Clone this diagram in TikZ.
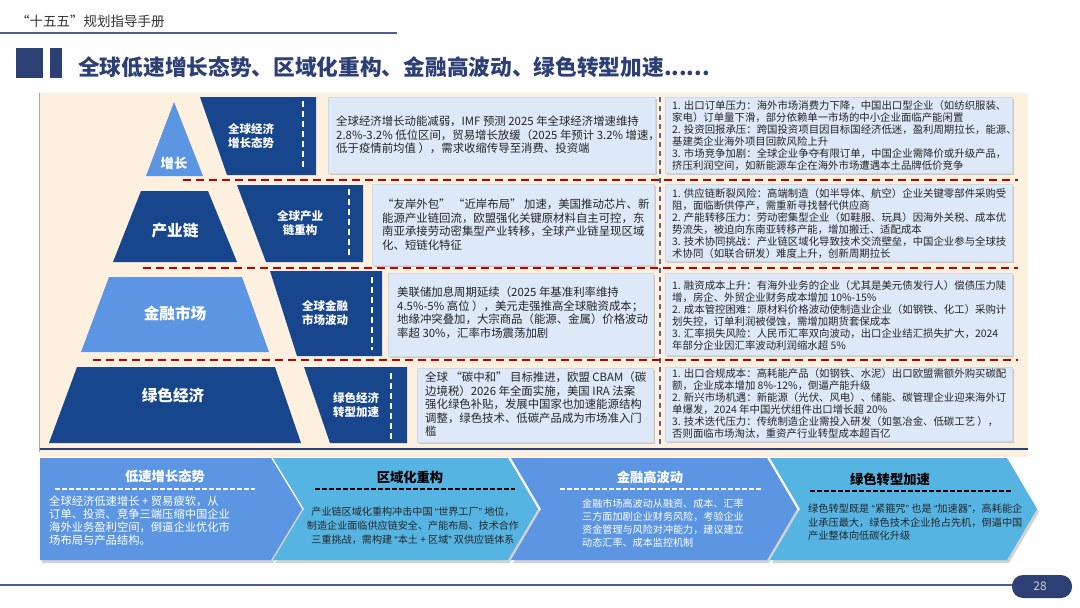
\documentclass[tikz,border=0pt]{standalone}
\usepackage{fontspec}
\setmainfont{Noto Sans CJK SC}
\newfontfamily\qfont{Liberation Sans}
\newcommand\qo{{\qfont“}}
\newcommand\qc{{\qfont”}}
\usepackage{xcolor}
\usetikzlibrary{shadows, positioning}
\XeTeXlinebreaklocale "zh"
\definecolor{navy}  {RGB}{ 44, 64,118}
\definecolor{dblue} {RGB}{ 24, 70,140}
\definecolor{lblue} {RGB}{ 92,150,226}
\definecolor{sky}   {RGB}{ 86,180,227}
\definecolor{beige} {RGB}{253,240,222}
\definecolor{pale}  {RGB}{221,232,248}
\definecolor{dred}  {RGB}{192,  0,  0}
\definecolor{rule}  {RGB}{ 78, 96,145}
\tikzset{
  % White label on a pyramid layer
  LV/.style={font=\fontsize{15.6}{18}\selectfont\bfseries,text=white,inner sep=0pt},
  % Two-line label on a dark band
  BD/.style={font=\fontsize{11.5}{14}\selectfont\bfseries,text=white,
             align=center,inner sep=0pt},
  % Pale text panel
  TP/.style={fill=pale,draw=pale!85!gray,line width=0.5pt,
             drop shadow={shadow xshift=2pt,shadow yshift=-2pt,opacity=0.35}},
  % Body text, middle column
  MT/.style={anchor=north west,align=left,inner sep=0pt,
             font=\fontsize{11.4}{13.5}\selectfont,text=black!85},
  % Body text, right column
  RT/.style={anchor=north west,align=left,inner sep=0pt,
             font=\fontsize{10.4}{12}\selectfont,text=black!85},
  % Red row divider
  RD/.style={dred,line width=1.8pt,dash pattern=on 8pt off 5pt},
  % White dashed rule in a band
  WD/.style={white,line width=1.5pt,dash pattern=on 6pt off 4pt},
  % Chevron card
  CV/.style={drop shadow={shadow xshift=2pt,shadow yshift=-3pt,opacity=0.35}},
  CT/.style={font=\fontsize{13.3}{16}\selectfont\bfseries,inner sep=0pt},
  CB/.style={anchor=north west,align=left,inner sep=0pt},
  CR/.style={line width=1.2pt,dash pattern=on 4.5pt off 2.5pt},
}
\begin{document}
\begin{tikzpicture}[x=1pt,y=-1pt]
  \useasboundingbox[fill=white] (0,0) rectangle (1080,608);
  % Header
  \node[anchor=west,inner sep=0pt,font=\fontsize{13.5}{16}\selectfont,text=black!80]
       (hdr) at (16,21) {“十五五”规划指导手册};
  \draw[rule,line width=1.2pt] (0,33) -- (397,33);
  \fill[navy] (16,48) rectangle (43,78);
  \fill[navy] (50,48) rectangle (62,78);
  \node[anchor=west,inner sep=0pt,font=\fontsize{21.7}{26}\selectfont\bfseries,text=navy]
       (ttl) at (78,67) {全球低速增长态势、区域化重构、金融高波动、绿色转型加速......};

  % Beige panel
  \fill[beige] (40,93) rectangle (1028,457);
  \draw[black!35,line width=1.5pt] (39.5,93) -- (39.5,452);
  \draw[navy,line width=2pt] (40,449) -- (1028,449);

  % Text panels
  \path[TP] (328,97) rectangle (655,173);
  \path[TP] (372,184) rectangle (654,265);
  \path[TP] (388,273) rectangle (653,356);
  \path[TP] (417,368) rectangle (653,442);
  \path[TP] (665,97) rectangle (1012,173);
  \path[TP] (665,184) rectangle (1012,261);
  \path[TP] (665,273) rectangle (1012,355);
  \path[TP] (665,367) rectangle (1012,441);

  % Dividers
  \draw[navy!80,line width=1.5pt,dash pattern=on 5pt off 4pt] (660,97) -- (660,445);
  \draw[RD] (183,180) -- (1018,180);
  \draw[RD] (143,268) -- (1018,268);
  \draw[RD] (93,360) -- (1018,360);

  % Level 1: growth
  \fill[lblue] (174,102) -- (203,176) -- (146,176) -- cycle;
  \node[LV,font=\fontsize{13.3}{16}\selectfont\bfseries] (grow) at (174,163) {增长};
  \fill[dblue] (200,97) -- (316,97) -- (316,175) -- (227,175) -- cycle;
  \draw[WD] (303,101) -- (303,170);
  \node[BD] (gtrend) at (251,136) {全球经济\\增长态势};

  % Level 2: industry chain
  \fill[dblue] (141,191) -- (208,191) -- (237,262) -- (113,262) -- cycle;
  \node[LV] (chain) at (175,231) {产业链};
  \fill[dblue] (237,185) -- (363,185) -- (363,262) -- (266,262) -- cycle;
  \draw[WD] (349,189) -- (349,256);
  \node[BD] (cshift) at (300,223) {全球产业\\链重构};

  % Level 3: finance
  \fill[lblue] (109,277) -- (242,277) -- (269,352) -- (81,352) -- cycle;
  \node[LV] (fin) at (175,313) {金融市场};
  \fill[dblue] (270,271) -- (382,271) -- (382,356) -- (297,356) -- cycle;
  \draw[WD] (372,277) -- (372,350);
  \node[BD] (fvol) at (325,313) {全球金融\\市场波动};

  % Level 4: green economy
  \fill[dblue] (77,367) -- (275,367) -- (301,443) -- (49,443) -- cycle;
  \node[LV] (green) at (173,395) {绿色经济};
  \fill[dblue] (304,367) -- (407,367) -- (407,443) -- (330,443) -- cycle;
  \draw[WD] (391,373) -- (391,440);
  \node[BD] (gturn) at (356,405) {绿色经济\\转型加速};

  % Middle column texts
  \node[MT] (m1) at (336,116) {全球经济增长动能减弱，IMF 预测 2025 年全球经济增速维持\\
    2.8\%-3.2\% 低位区间，贸易增长放缓（2025 年预计 3.2\% 增速，\\
    低于疫情前均值 ），需求收缩传导至消费、投资端};
  \node[MT] (m2) at (382,199) {“友岸外包” “近岸布局” 加速，美国推动芯片、新\\
    能源产业链回流，欧盟强化关键原材料自主可控，东\\
    南亚承接劳动密集型产业转移，全球产业链呈现区域\\
    化、短链化特征};
  \node[MT] (m3) at (397,287) {美联储加息周期延续（2025 年基准利率维持\\
    4.5\%-5\% 高位 ），美元走强推高全球融资成本；\\
    地缘冲突叠加，大宗商品（能源、金属）价格波动\\
    率超 30\%，汇率市场震荡加剧};
  \node[MT] (m4) at (425,372) {全球 “碳中和” 目标推进，欧盟 CBAM（碳\\
    边境税）2026 年全面实施，美国 IRA 法案\\
    强化绿色补贴，发展中国家也加速能源结构\\
    调整，绿色技术、低碳产品成为市场准入门\\
    槛};

  % Right column texts
  \node[RT] (r1) at (672,100) {1. 出口订单压力：海外市场消费力下降，中国出口型企业（如纺织服装、\\
    家电）订单量下滑，部分依赖单一市场的中小企业面临产能闲置\\
    2. 投资回报承压：跨国投资项目因目标国经济低迷，盈利周期拉长，能源、\\
    基建类企业海外项目回款风险上升\\
    3. 市场竞争加剧：全球企业争夺有限订单，中国企业需降价或升级产品，\\
    挤压利润空间，如新能源车企在海外市场遭遇本土品牌低价竞争};
  \node[RT] (r2) at (672,188) {1. 供应链断裂风险：高端制造（如半导体、航空）企业关键零部件采购受\\
    阻，面临断供停产，需重新寻找替代供应商\\
    2. 产能转移压力：劳动密集型企业（如鞋服、玩具）因海外关税、成本优\\
    势流失，被迫向东南亚转移产能，增加搬迁、适配成本\\
    3. 技术协同挑战：产业链区域化导致技术交流壁垒，中国企业参与全球技\\
    术协同（如联合研发）难度上升，创新周期拉长};
  \node[RT] (r3) at (672,280) {1. 融资成本上升：有海外业务的企业（尤其是美元债发行人）偿债压力陡\\
    增，房企、外贸企业财务成本增加 10\%-15\%\\
    2. 成本管控困难：原材料价格波动使制造业企业（如钢铁、化工）采购计\\
    划失控，订单利润被侵蚀，需增加期货套保成本\\
    3. 汇率损失风险：人民币汇率双向波动，出口企业结汇损失扩大，2024\\
    年部分企业因汇率波动利润缩水超 5\%};
  \node[RT] (r4) at (672,368) {1. 出口合规成本：高耗能产品（如钢铁、水泥）出口欧盟需额外购买碳配\\
    额，企业成本增加 8\%-12\%，倒逼产能升级\\
    2. 新兴市场机遇：新能源（光伏、风电）、储能、碳管理企业迎来海外订\\
    单爆发，2024 年中国光伏组件出口增长超 20\%\\
    3. 技术迭代压力：传统制造企业需投入研发（如氢冶金、低碳工艺 ），\\
    否则面临市场淘汰，重资产行业转型成本超百亿};

  % Bottom chevron cards
  \fill[lblue,CV] (40,458) -- (271,458) -- (302,509) -- (271,560) -- (40,560) -- cycle;
  \fill[sky,CV] (273,458) -- (508,458) -- (538,509) -- (508,560) -- (273,560) -- (304,509) -- cycle;
  \fill[lblue,CV] (511,458) -- (767,458) -- (797,509) -- (767,560) -- (511,560) -- (541,509) -- cycle;
  \fill[sky,CV] (770,458) -- (1007,458) -- (1037,509) -- (1007,560) -- (770,560) -- (800,509) -- cycle;

  \node[CT,text=white] (c1) at (165,476) {低速增长态势};
  \draw[CR,white] (55,489) -- (255,489);
  \node[CB,text=white,font=\fontsize{11.3}{12.8}\selectfont] (c1t) at (49,496)
       {全球经济低速增长 + 贸易疲软，从\\订单、投资、竞争三端压缩中国企业\\
        海外业务盈利空间，倒逼企业优化市\\场布局与产品结构。};

  \node[CT,text=black] (c2) at (410,477) {区域化重构};
  \draw[CR,black] (315,489) -- (515,489);
  \node[CB,anchor=north,align=center,text=black!85,font=\fontsize{10.1}{14}\selectfont]
       (c2t) at (413,507)
       {产业链区域化重构冲击中国 \qo 世界工厂\qc\ 地位，\\制造企业面临供应链安全、产能布局、技术合作\\
        三重挑战，需构建 \qo 本土 + 区域\qc\ 双供应链体系};

  \node[CT,text=white] (c3) at (650,477) {金融高波动};
  \draw[CR,white] (560,489) -- (762,489);
  \node[CB,text=white,font=\fontsize{10.1}{13}\selectfont] (c3t) at (582,499)
       {金融市场高波动从融资、成本、汇率\\三方面加剧企业财务风险，考验企业\\
        资金管理与风险对冲能力，建议建立\\动态汇率、成本监控机制};

  \node[CT,text=black] (c4) at (890,479) {绿色转型加速};
  \draw[CR,black] (810,491) -- (1012,491);
  \node[CB,text=black!85,font=\fontsize{10.2}{13.5}\selectfont] (c4t) at (808,504)
       {绿色转型既是 \qo 紧箍咒\qc\ 也是 \qo 加速器\qc，高耗能企\\业承压最大，绿色技术企业抢占先机，倒逼中国\\
        产业整体向低碳化升级};

  % Footer
  \draw[rule,line width=1.5pt] (0,585) -- (1015,585);
  \fill[navy,rounded corners=11pt] (1012,575) rectangle (1072,598);
  \node[font=\fontsize{12}{14}\selectfont,text=black!20,inner sep=0pt] (pg) at (1040,586) {28};
\end{tikzpicture}
\end{document}
